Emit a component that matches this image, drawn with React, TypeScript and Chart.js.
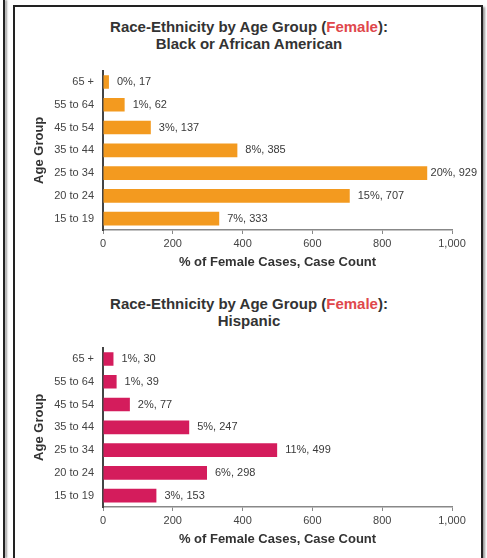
import React, { useEffect, useRef } from 'react';
import { Chart, registerables } from 'chart.js';

Chart.register(...registerables);

const ageGroups = ['65 +', '55 to 64', '45 to 54', '35 to 44', '25 to 34', '20 to 24', '15 to 19'];
const blackCounts = [17, 62, 137, 385, 929, 707, 333];
const blackPercents = [0, 1, 3, 8, 20, 15, 7];
const hispanicCounts = [30, 39, 77, 247, 499, 298, 153];
const hispanicPercents = [1, 1, 2, 5, 11, 6, 3];
const xTickValues = [0, 200, 400, 600, 800, 1000];

const FONT = '"Liberation Sans", Arial, sans-serif';

type PanelProps = {
  top: number;
  subtitle: string;
  counts: number[];
  percents: number[];
  color: string;
};

function Panel({ top, subtitle, counts, percents, color }: PanelProps) {
  const ref = useRef<HTMLCanvasElement | null>(null);

  useEffect(() => {
    if (!ref.current) return;
    const labelPlugin = {
      id: 'barLabels',
      afterDatasetsDraw(chart: any) {
        const ctx = chart.ctx;
        const meta = chart.getDatasetMeta(0);
        ctx.save();
        ctx.font = `11px ${FONT}`;
        ctx.fillStyle = '#3a3a3a';
        ctx.textBaseline = 'middle';
        ctx.textAlign = 'left';
        meta.data.forEach((bar: any, i: number) => {
          const text = `${percents[i]}%, ${counts[i]}`;
          const w = ctx.measureText(text).width;
          let x = bar.x + 8;
          const maxRight = chart.chartArea.right + 25;
          if (x + w > maxRight) x = maxRight - w;
          ctx.fillText(text, x, bar.y);
        });
        ctx.restore();
      },
    };

    const chart = new Chart(ref.current, {
      type: 'bar',
      data: {
        labels: ageGroups,
        datasets: [
          {
            data: counts,
            backgroundColor: color,
            borderWidth: 0,
            barPercentage: 0.75,
            categoryPercentage: 0.8,
          },
        ],
      },
      options: {
        indexAxis: 'y',
        responsive: false,
        animation: false,
        layout: { padding: { left: 12, right: 28, top: 14, bottom: 0 } },
        plugins: {
          legend: { display: false },
          tooltip: { enabled: false },
          title: { display: false },
        },
        scales: {
          x: {
            min: 0,
            max: 1000,
            afterBuildTicks: (s: any) => {
              s.ticks = xTickValues.map((v) => ({ value: v }));
            },
            afterFit: (s: any) => {
              s.height = 45;
            },
            grid: { drawOnChartArea: false, drawTicks: true, tickLength: 4, color: '#888' },
            border: { color: '#888', width: 1.5 },
            ticks: {
              font: { family: FONT, size: 11 },
              color: '#444',
              padding: 3,
              maxRotation: 0,
              callback: (v: any) => Number(v).toLocaleString('en-US'),
            },
            title: {
              display: true,
              text: '% of Female Cases, Case Count',
              font: { family: FONT, size: 13, weight: 'bold' },
              color: '#333',
              padding: { top: 4, bottom: 5 },
            },
          },
          y: {
            afterFit: (s: any) => {
              s.width = 75;
            },
            grid: { drawOnChartArea: false, drawTicks: false },
            border: { color: '#444', width: 2 },
            ticks: {
              font: { family: FONT, size: 11 },
              color: '#444',
              padding: 9,
            },
            title: {
              display: true,
              text: 'Age Group',
              font: { family: FONT, size: 13, weight: 'bold' },
              color: '#333',
              padding: { top: 4, bottom: 4 },
            },
          },
        },
      },
      plugins: [labelPlugin],
    });
    return () => chart.destroy();
  }, [counts, percents, color]);

  const titleStyle: React.CSSProperties = {
    position: 'absolute',
    left: 16,
    width: 466,
    textAlign: 'center',
    fontFamily: FONT,
    fontWeight: 'bold',
    fontSize: 15,
    lineHeight: '17px',
    color: '#333',
  };

  return (
    <>
      <div style={{ ...titleStyle, top: top + 9 }}>
        Race-Ethnicity by Age Group (<span style={{ color: '#e0474c' }}>Female</span>):
        <br />
        {subtitle}
      </div>
      <canvas
        ref={ref}
        width={464}
        height={220}
        style={{ position: 'absolute', left: 16, top: top + 46, width: 464, height: 220 }}
      />
    </>
  );
}

export default function App() {
  return (
    <div
      style={{
        position: 'absolute',
        left: 0,
        top: 0,
        width: 487,
        height: 558,
        overflow: 'hidden',
        background: '#fff',
      }}
    >
      <div
        style={{
          position: 'absolute',
          left: 3,
          top: 0,
          width: 2,
          height: 558,
          background: '#222',
          boxShadow: '2px 0 2px #999',
        }}
      />
      <div
        style={{
          position: 'absolute',
          left: 13,
          top: 5,
          width: 466,
          height: 600,
          border: '2px solid #222',
          boxShadow: '2px 2px 2px #999',
        }}
      />
      <Panel top={9} subtitle="Black or African American" counts={blackCounts} percents={blackPercents} color="#f39a1f" />
      <Panel top={286} subtitle="Hispanic" counts={hispanicCounts} percents={hispanicPercents} color="#d41c5c" />
    </div>
  );
}
